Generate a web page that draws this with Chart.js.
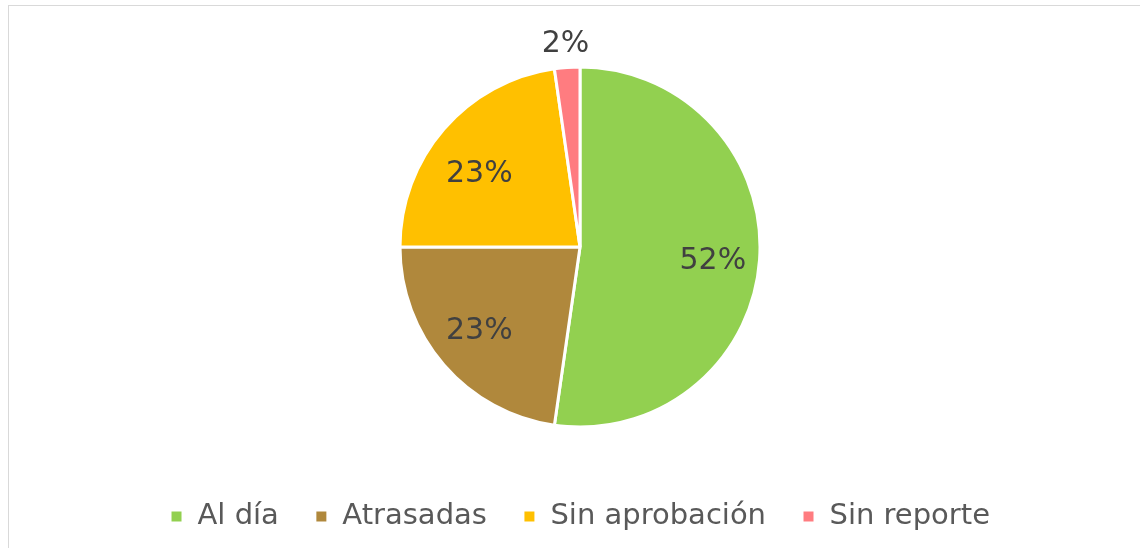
<!DOCTYPE html>
<html>
<head>
<meta charset="utf-8">
<script src="https://cdn.jsdelivr.net/npm/chart.js@4"></script>
<style>
    html, body { margin: 0; padding: 0; background: #fff; overflow: hidden; }
    #frame {
        position: absolute; left: 8px; top: 5px; width: 1200px; height: 600px;
        border: 1px solid #d9d9d9; box-sizing: border-box;
    }
    #wrap { position: absolute; left: 0; top: 0; width: 1140px; height: 548px; }
</style>
</head>
<body>
<div id="frame"></div>
<div id="wrap"><canvas id="pieChart"></canvas></div>
<script>
// Estado de cumplimiento
const categories = ['Al día', 'Atrasadas', 'Sin aprobación', 'Sin reporte'];
const counts = [23, 10, 10, 1];
const colors = ['#92D050', '#B0883C', '#FFC000', '#FF7C80'];

const labelFont = '30px "DejaVu Sans", Verdana, sans-serif';

// Percent labels drawn on top of each slice
const pctLabels = {
    id: 'pctLabels',
    afterDatasetsDraw(chart) {
        const ctx = chart.ctx;
        const meta = chart.getDatasetMeta(0);
        const total = counts.reduce((a, b) => a + b, 0);
        ctx.save();
        ctx.font = labelFont;
        ctx.fillStyle = '#404040';
        ctx.textAlign = 'center';
        ctx.textBaseline = 'middle';
        meta.data.forEach((arc, i) => {
            const p = arc.getProps(['x', 'y', 'startAngle', 'endAngle', 'outerRadius']);
            const mid = (p.startAngle + p.endAngle) / 2;
            const share = counts[i] / total;
            let tx, ty;
            if (share < 0.05) {
                // small slice: label outside the pie
                const r = p.outerRadius + 23;
                tx = p.x + Math.cos(mid) * r;
                ty = p.y + Math.sin(mid) * r;
            } else {
                const r = p.outerRadius * 0.74;
                tx = p.x + Math.cos(mid) * r;
                ty = p.y + Math.sin(mid) * r * 0.9 + 6;
            }
            ctx.fillText(Math.round(share * 100) + '%', tx, ty);
        });
        ctx.restore();
    }
};

document.addEventListener('DOMContentLoaded', () => {
    const ctx = document.getElementById('pieChart').getContext('2d');
    new Chart(ctx, {
        type: 'pie',
        data: {
            labels: categories,
            datasets: [{
                data: counts,
                backgroundColor: colors,
                borderColor: '#ffffff',
                borderWidth: 3,
                radius: 180
            }]
        },
        options: {
            responsive: true,
            maintainAspectRatio: false,
            animation: false,
            layout: { padding: { left: 20, top: 28, bottom: 7 } },
            plugins: {
                tooltip: { enabled: false },
                legend: {
                    position: 'bottom',
                    labels: {
                        boxWidth: 13,
                        boxHeight: 13,
                        padding: 36,
                        color: '#595959',
                        font: { family: '"DejaVu Sans", Verdana, sans-serif', size: 29 }
                    }
                }
            }
        },
        plugins: [pctLabels]
    });
});
</script>
</body>
</html>
